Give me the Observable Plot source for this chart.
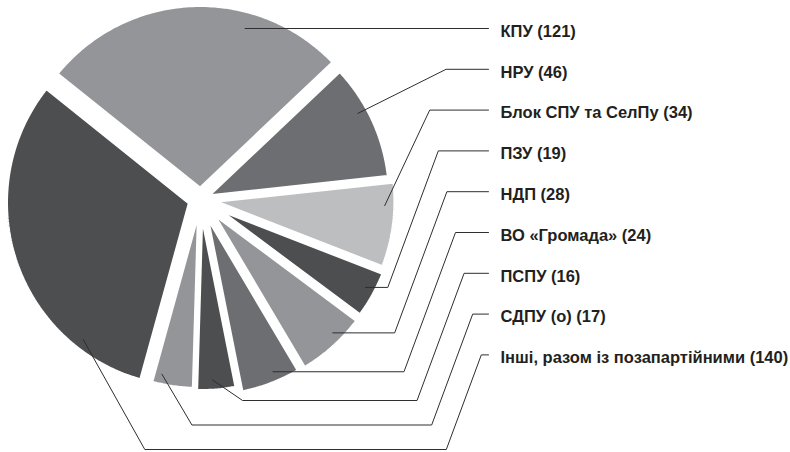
<!DOCTYPE html>
<html>
<head>
<meta charset="utf-8">
<script src="https://cdn.jsdelivr.net/npm/d3@7"></script>
<script src="https://cdn.jsdelivr.net/npm/@observablehq/plot@0.6"></script>
<style>
  html, body { margin: 0; padding: 0; background: #ffffff; }
  #chart svg { display: block; }
</style>
</head>
<body>
<div id="chart"></div>
<script>
// ---------------- DATA ----------------
const parties = ["КПУ", "НРУ", "Блок СПУ та СелПу", "ПЗУ", "НДП", "ВО «Громада»", "ПСПУ", "СДПУ (о)", "Інші, разом із позапартійними"];
const seats   = [121, 46, 34, 19, 28, 24, 16, 17, 140];
const colors  = ["#939598", "#6d6e71", "#bcbec0", "#4d4e50", "#939598", "#6d6e71", "#4d4e50", "#939598", "#4d4e50"];

// ---------------- LAYOUT / STYLE ----------------
const W = 790, H = 452;
const center = {x: 200, y: 199};
const R = 185;                       // pie radius (px)
const startDeg = -51.3;              // first slice starts here (clockwise from 12 o'clock)
const explode = [10, 5.5, 10.5, 13, 14, 13, 7, 5, 10.5];     // slice pull-out (px)
const anchorShift = [18, -4, -6, -1, -3, -2, 1, 4, -34];     // leader anchor angle vs mid-angle (deg)
const anchorFrac = 0.94;
const labelX = 500, labelTop = 31, labelStep = 40.8, lineEndX = 488;

const deg = Math.PI / 180;
const rows = parties.map((name, i) => ({name, value: seats[i], color: colors[i], i}));
const arcs = d3.pie().sort(null).value(d => d.value)
  .startAngle(startDeg * deg).endAngle(startDeg * deg + 2 * Math.PI)(rows);

const slicePts = [];
const leaderPts = [];
const labels = [];
arcs.forEach((a, i) => {
  const d = a.data;
  const mid = (a.startAngle + a.endAngle) / 2;
  const cx = center.x + explode[i] * Math.sin(mid);
  const cy = center.y - explode[i] * Math.cos(mid);
  slicePts.push({name: d.name, color: d.color, x: cx, y: cy});
  const n = Math.max(4, Math.ceil((a.endAngle - a.startAngle) / deg));
  for (let k = 0; k <= n; k++) {
    const t = a.startAngle + (a.endAngle - a.startAngle) * k / n;
    slicePts.push({name: d.name, color: d.color, x: cx + R * Math.sin(t), y: cy - R * Math.cos(t)});
  }
  slicePts.push({name: d.name, color: d.color, x: cx, y: cy});

  // leader line
  const th = mid + anchorShift[i] * deg;
  const ly = labelTop + labelStep * i;
  const L = ly - 3;
  let ax = cx + anchorFrac * R * Math.sin(th);
  let ay = cy - anchorFrac * R * Math.cos(th);
  let pts;
  if (i === 0) {
    // anchor where the ray meets the label's line height -> straight horizontal leader
    const r = (cy - L) / Math.cos(th);
    ax = cx + r * Math.sin(th); ay = L;
    pts = [[ax, ay], [lineEndX, L]];
  } else {
    let kx = 412 + 8.6 * i;
    if (i < 3 && ay > L && ay - L < 50) kx = ax + 2 * (ay - L);
    pts = [[ax, ay]];
    if (i >= 3 && i <= 5) {
      const lane = ay;
      pts.push([kx - 0.37 * (lane - L), lane]);
    } else if (i >= 6) {
      const lane = center.y + R + 16 + (i - 6) * 24.5;
      const xs = ax + Math.max(30, 0.56 * (lane - ay));
      pts.push([xs, lane]);
      pts.push([kx - 0.37 * (lane - L), lane]);
    }
    pts.push([kx, L]);
    pts.push([lineEndX, L]);
  }
  pts.forEach(p => leaderPts.push({name: d.name, x: p[0], y: p[1]}));
  labels.push({text: `${d.name} (${d.value})`, x: labelX, y: ly});
});

const chart = Plot.plot({
  width: W,
  height: H,
  margin: 0,
  x: {domain: [0, W], range: [0, W], axis: null},
  y: {domain: [0, H], range: [0, H], axis: null},
  color: {type: "identity"},
  style: {fontFamily: "'Liberation Sans', Arial, sans-serif", background: "#ffffff"},
  marks: [
    Plot.line(slicePts, {x: "x", y: "y", z: "name", fill: "color", stroke: "none", curve: "linear"}),
    Plot.line(slicePts, {x: "x", y: "y", z: "name", fill: "none", stroke: "#ffffff", strokeWidth: 5, strokeLinejoin: "miter", curve: "linear"}),
    Plot.line(leaderPts, {x: "x", y: "y", z: "name", stroke: "#2e2e30", strokeWidth: 1, curve: "linear"}),
    Plot.text(labels, {x: "x", y: "y", text: "text", textAnchor: "start", fontSize: 16.5, fontWeight: "bold", fill: "#231f20"})
  ]
});
document.getElementById("chart").appendChild(chart);
</script>
</body>
</html>
